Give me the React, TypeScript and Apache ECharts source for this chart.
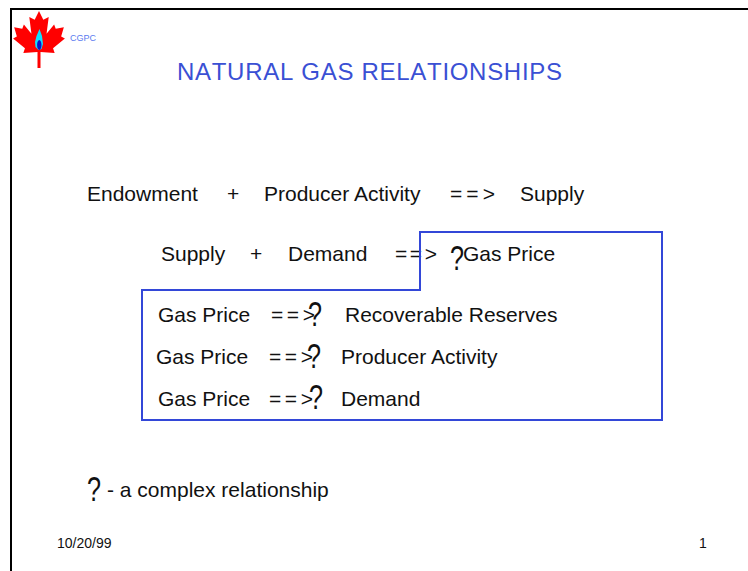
import React, { useEffect, useRef } from "react";
import * as echarts from "echarts";

// ---- content (text) ----
const TITLE = "NATURAL GAS RELATIONSHIPS";
const LOGO_TEXT = "CGPC";
const LINE1 = ["Endowment", "+", "Producer Activity", "==>", "Supply"];
const LINE2 = ["Supply", "+", "Demand", "==>", "?", "Gas Price"];
const ROW_LEFT = ["Gas Price", "Gas Price", "Gas Price"];
const ROW_ARROW = ["==>", "==>", "==>"];
const ROW_MARK = ["?", "?", "?"];
const ROW_RIGHT = ["Recoverable Reserves", "Producer Activity", "Demand"];
const FOOTNOTE = ["?", "- a complex relationship"];
const DATE_TEXT = "10/20/99";
const PAGE_TEXT = "1";

// ---- layout ----
const FONT = '"Liberation Sans", Arial, sans-serif';
const BLUE = "#3347d8";
const TITLE_BLUE = "#3a50d4";
const TEXT = "#111111";

const LINE1_X = [87, 227, 264, 450, 520];
const LINE1_Y = 193;
const LINE2_X = [161, 250, 288, 395, 450, 463];
const LINE2_Y = 253;
const ROW_Y = [314, 356, 398];
const ROW_MARK_Y = [313, 355, 396];
const ROW_LEFT_X = [158, 156, 158];
const ROW_ARROW_X = [271, 269, 269];
const ROW_MARK_X = [308, 307, 309];
const ROW_RIGHT_X = [345, 341, 341];

function measure(ctx: CanvasRenderingContext2D, s: string) {
  return ctx.measureText(s).width;
}

function spaced(
  ctx: CanvasRenderingContext2D,
  text: string,
  x0: number,
  width: number,
  y: number,
  size: number,
  color: string
) {
  ctx.font = `${size}px ${FONT}`;
  const chars = text.split("");
  const ws = chars.map((c) => measure(ctx, c));
  const natural = ws.reduce((a, b) => a + b, 0);
  const gap = chars.length > 1 ? (width - natural) / (chars.length - 1) : 0;
  const out: any[] = [];
  let x = x0;
  chars.forEach((c, i) => {
    if (c !== " ") {
      out.push({
        type: "text",
        x,
        y,
        silent: true,
        style: {
          text: c,
          fill: color,
          fontSize: size,
          fontFamily: FONT,
          align: "left",
          verticalAlign: "middle",
        },
      });
    }
    x += ws[i] + gap;
  });
  return out;
}

function txt(text: string, x: number, y: number, size = 21, color = TEXT) {
  return {
    type: "text",
    x,
    y,
    silent: true,
    style: {
      text,
      fill: color,
      fontSize: size,
      fontFamily: FONT,
      align: "left",
      verticalAlign: "middle",
    },
  };
}

function mark(x: number, y: number) {
  return {
    type: "text",
    x,
    y,
    scaleX: 0.72,
    silent: true,
    style: {
      text: "?",
      fill: TEXT,
      fontSize: 35,
      fontFamily: FONT,
      align: "left",
      verticalAlign: "middle",
    },
  };
}

// maple leaf (right half, normalized; mirrored)
const LEAF_HALF = [
  [0, 0],
  [0.08, 0.16],
  [0.18, 0.11],
  [0.14, 0.42],
  [0.28, 0.25],
  [0.31, 0.33],
  [0.46, 0.3],
  [0.41, 0.47],
  [0.48, 0.51],
  [0.26, 0.69],
  [0.29, 0.78],
  [0.03, 0.76],
];

function leafPoints(cx: number, top: number, s: number) {
  const right = LEAF_HALF.map(([x, y]) => [cx + x * s, top + y * s]);
  const left = LEAF_HALF.slice(1)
    .reverse()
    .map(([x, y]) => [cx - x * s, top + y * s]);
  return [...right, ...left];
}

export default function App() {
  const ref = useRef<HTMLDivElement>(null);
  useEffect(() => {
    if (!ref.current) return;
    const chart = echarts.init(ref.current, null, { renderer: "svg" });
    const canvas = document.createElement("canvas");
    const ctx = canvas.getContext("2d") as CanvasRenderingContext2D;

    const elements: any[] = [];

    // slide border (top + left)
    elements.push({
      type: "polyline",
      silent: true,
      shape: { points: [[11, 571], [11, 9], [748, 9]] },
      style: { stroke: "#000", lineWidth: 2, fill: "none" },
    });

    // logo
    elements.push({
      type: "rect",
      silent: true,
      shape: { x: 37.5, y: 48, width: 3, height: 20 },
      style: { fill: "#ff0000" },
    });
    elements.push({
      type: "polygon",
      silent: true,
      shape: { points: leafPoints(39, 11, 54) },
      style: { fill: "#ff0000" },
    });
    elements.push({
      type: "polygon",
      silent: true,
      shape: {
        points: [
          [39.5, 29],
          [42, 36],
          [43, 44],
          [41.5, 49],
          [38.5, 50],
          [35.5, 47],
          [35, 42],
          [36.5, 36],
        ],
      },
      style: { fill: "#10e0ff" },
    });
    elements.push({
      type: "ellipse",
      silent: true,
      shape: { cx: 39.3, cy: 45, rx: 2.2, ry: 5 },
      style: { fill: "#0a10c8" },
    });
    elements.push(txt(LOGO_TEXT, 70, 38, 9, "#5a7bf0"));

    // title
    elements.push(...spaced(ctx, TITLE, 177, 385, 71, 24, TITLE_BLUE));

    // line 1
    LINE1.forEach((t, i) => {
      if (t === "==>") elements.push(...spaced(ctx, t, LINE1_X[i], 45, LINE1_Y, 21, TEXT));
      else elements.push(txt(t, LINE1_X[i], LINE1_Y));
    });

    // line 2
    LINE2.forEach((t, i) => {
      if (t === "==>") elements.push(...spaced(ctx, t, LINE2_X[i], 42, LINE2_Y, 21, TEXT));
      else if (t === "?") elements.push(mark(LINE2_X[i], 257));
      else elements.push(txt(t, LINE2_X[i], LINE2_Y));
    });

    // rows in box
    ROW_LEFT.forEach((t, i) => {
      elements.push(txt(t, ROW_LEFT_X[i], ROW_Y[i]));
      elements.push(...spaced(ctx, ROW_ARROW[i], ROW_ARROW_X[i], 44, ROW_Y[i], 21, TEXT));
      if (ROW_MARK[i] === "?") elements.push(mark(ROW_MARK_X[i], ROW_MARK_Y[i]));
      elements.push(txt(ROW_RIGHT[i], ROW_RIGHT_X[i], ROW_Y[i]));
    });

    // box outline
    elements.push({
      type: "polygon",
      silent: true,
      shape: {
        points: [
          [142, 420],
          [142, 290],
          [420, 290],
          [420, 232],
          [662, 232],
          [662, 420],
        ],
      },
      style: { fill: "none", stroke: BLUE, lineWidth: 2 },
    });

    // footnote
    elements.push(mark(87, 488));
    elements.push(txt(FOOTNOTE[1], 107, 489));

    // footer
    elements.push(txt(DATE_TEXT, 57, 543, 14));
    elements.push(txt(PAGE_TEXT, 699, 543, 14));

    chart.setOption({
      animation: false,
      backgroundColor: "#ffffff",
      graphic: { elements },
    });
    return () => chart.dispose();
  }, []);

  return (
    <div
      ref={ref}
      style={{ position: "fixed", left: 0, top: 0, width: 748, height: 571 }}
    />
  );
}
